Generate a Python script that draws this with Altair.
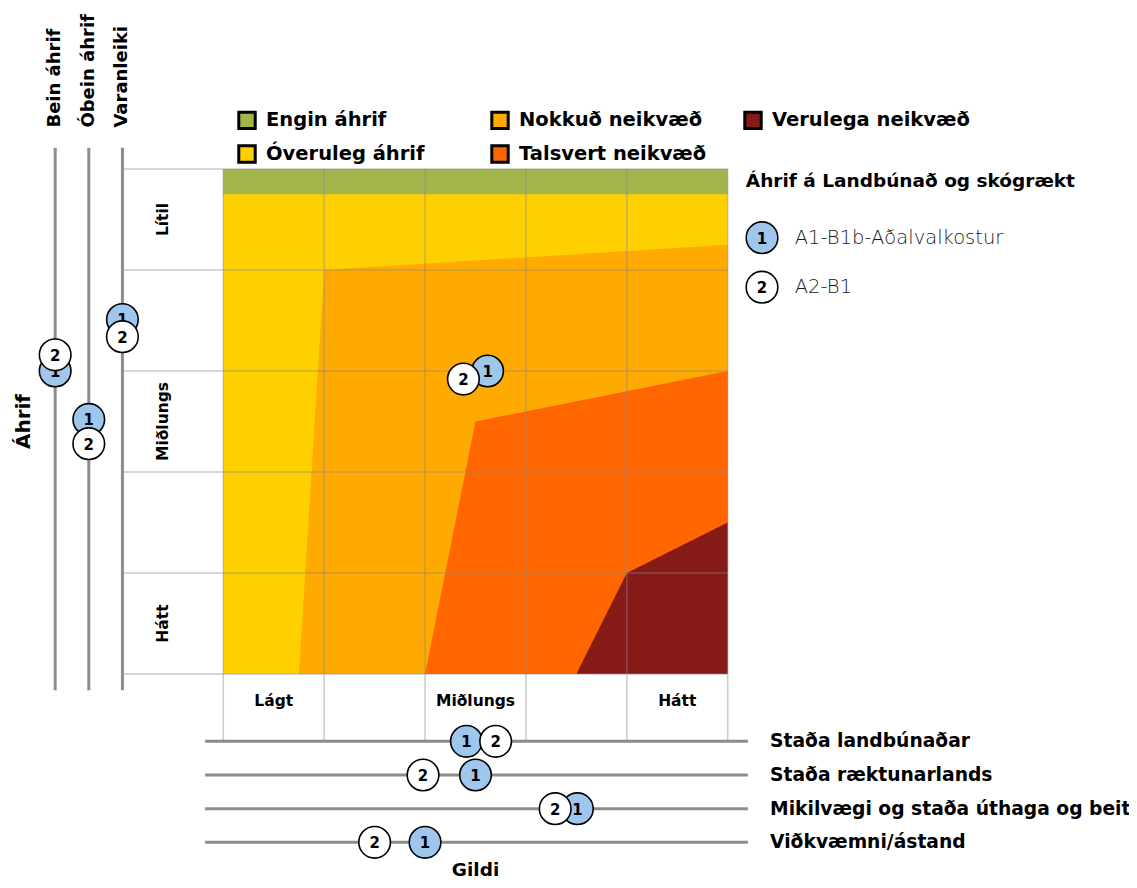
import altair as alt
import pandas as pd

# ---------------- data ----------------
region_names = ["Engin áhrif", "Óveruleg áhrif", "Nokkuð neikvæð", "Talsvert neikvæð", "Verulega neikvæð"]
region_colors = ["#A2B54B", "#FFD000", "#FFAA00", "#FF6600", "#851A17"]

# region boundaries (x = Gildi 0..5, y = Áhrif 0 (top, lítil) .. 5 (bottom, hátt))
yellow_x, yellow_top, yellow_bot = [0, 5], [0, 0], [5, 5]
nokkud_x, nokkud_top, nokkud_bot = [0.75, 1, 5], [5, 1, 0.75], [5, 5, 5]
talsvert_x, talsvert_top, talsvert_bot = [2, 2.5, 5], [5, 2.5, 2], [5, 5, 5]
verulega_x, verulega_top, verulega_bot = [3.5, 4, 5], [5, 4, 3.5], [5, 5, 5]
green_x, green_top, green_bot = [0, 5], [0, 0], [0.25, 0.25]

x_tick_labels = ["Lágt", "Miðlungs", "Hátt"]
x_tick_pos = [0.5, 2.5, 4.5]
y_tick_labels = ["Lítil", "Miðlungs", "Hátt"]
y_tick_pos = [0.5, 2.5, 4.5]

left_strips = ["Bein áhrif", "Óbein áhrif", "Varanleiki"]
bottom_strips = ["Staða landbúnaðar", "Staða ræktunarlands",
                 "Mikilvægi og staða úthaga og beit", "Viðkvæmni/ástand"]

scenarios = ["A1-B1b-Aðalvalkostur", "A2-B1"]
scenario_nums = ["1", "2"]
scenario_fill = ["#9FC7EE", "#FFFFFF"]

main_x = [2.62, 2.38]
main_y = [2.00, 2.08]
left_vals = [[2.00, 2.48, 1.49], [1.84, 2.72, 1.66]]
bottom_vals = [[2.41, 2.50, 3.51, 2.00], [2.70, 1.98, 3.29, 1.50]]

# ---------------- layout ----------------
FONT = "DejaVu Sans"
W, H = 1121, 872
PL, PR, PT, PB = 223.3, 727.7, 169.0, 674.0
ux = (PR - PL) / 5
uy = (PB - PT) / 5
XMIN = -(PL - 8) / ux
XMAX = XMIN + W / ux
YMIN = -(PT - 8) / uy
YMAX = YMIN + H / uy

xs = alt.Scale(domain=[XMIN, XMAX], nice=False, zero=False)
ys = alt.Scale(domain=[YMIN, YMAX], nice=False, zero=False, reverse=True)
X = lambda f="x": alt.X(f"{f}:Q", scale=xs, axis=None)
Y = lambda f="y": alt.Y(f"{f}:Q", scale=ys, axis=None, stack=None)

strip_x = [-1 - (len(left_strips) - 1 - i) / 3 for i in range(len(left_strips))]
strip_y = [5 + 2 / 3 + i / 3 for i in range(len(bottom_strips))]

legend_order = ["Engin áhrif", "Nokkuð neikvæð", "Verulega neikvæð", "Óveruleg áhrif", "Talsvert neikvæð"]
color_scale = alt.Scale(domain=legend_order,
                        range=[region_colors[region_names.index(n)] for n in legend_order])
region_legend = alt.Legend(
    orient="none", legendX=229, legendY=102, columns=3, direction="horizontal",
    title=None, symbolType="square", symbolSize=270, symbolStrokeColor="black",
    symbolStrokeWidth=3, symbolOpacity=1, labelFont=FONT, labelFontSize=19.5,
    labelFontWeight="bold", labelColor="black", labelOffset=9, gridAlign="all",
    columnPadding=21, rowPadding=4, padding=0, labelLimit=400)


def region_layer(name, xv, top, bot):
    df = pd.DataFrame({"x": xv, "y": top, "y2": bot, "region": name})
    return alt.Chart(df).mark_area(opacity=1, interpolate="linear", orient="vertical").encode(
        x=X(), y=Y(), y2=alt.Y2("y2"),
        color=alt.Color("region:N", scale=color_scale, legend=region_legend))


regions = [
    region_layer("Óveruleg áhrif", yellow_x, yellow_top, yellow_bot),
    region_layer("Nokkuð neikvæð", nokkud_x, nokkud_top, nokkud_bot),
    region_layer("Talsvert neikvæð", talsvert_x, talsvert_top, talsvert_bot),
    region_layer("Verulega neikvæð", verulega_x, verulega_top, verulega_bot),
    region_layer("Engin áhrif", green_x, green_top, green_bot),
]

# grid lines (inside plot and extended into axis label bands)
grid_rows = []
for k in range(6):
    grid_rows.append({"x": k, "x2": k, "y": 0, "y2": strip_y[0]})
    grid_rows.append({"x": strip_x[-1], "x2": 5, "y": k, "y2": k})
grid = alt.Chart(pd.DataFrame(grid_rows)).mark_rule(
    color="#8a8a8a", opacity=0.45, strokeWidth=1.5).encode(
    x=X(), x2="x2:Q", y=Y(), y2="y2:Q")

# strip lines
strip_rows = [{"x": sx, "x2": sx, "y": -0.21, "y2": 5.16} for sx in strip_x]
strip_rows += [{"x": -0.18, "x2": 5.2, "y": sy, "y2": sy} for sy in strip_y]
strips = alt.Chart(pd.DataFrame(strip_rows)).mark_rule(
    color="#8c8c8c", strokeWidth=3).encode(x=X(), x2="x2:Q", y=Y(), y2="y2:Q")


def text_layer(xv, yv, tv, size, weight="bold", angle=None, align="center", color="black"):
    kw = dict(align=align, baseline="middle", font=FONT, fontSize=size,
              fontWeight=weight, color=color)
    if angle is not None:
        kw["angle"] = angle
    return alt.Chart(pd.DataFrame({"x": xv, "y": yv, "t": tv})).mark_text(**kw).encode(
        x=X(), y=Y(), text="t:N")


left_titles = text_layer(strip_x, [-0.41] * 3, left_strips, 18, angle=270, align="left")
ytick = text_layer([-0.6] * 3, y_tick_pos, y_tick_labels, 15.5, angle=270)
xtick = text_layer(x_tick_pos, [5.27] * 3, x_tick_labels, 15.5)
ahrif = text_layer([-1.98], [2.5], ["Áhrif"], 20, angle=270)
gildi = text_layer([2.5], [6.94], ["Gildi"], 18.5)
bottom_lbl = text_layer([5.42] * 4, strip_y, bottom_strips, 18.7, align="left")
leg_title = text_layer([5.18], [0.12], ["Áhrif á Landbúnað og skógrækt"], 18.5, align="left")

leg_y = [0.68, 1.17]
leg_lbl = text_layer([5.665] * 2, leg_y, scenarios, 19.5, weight=300, align="left", color="#1a1a1a")

# points per scenario
point_layers = []
for s in range(2):
    xs_, ys_ = [main_x[s]], [main_y[s]]
    for i in range(len(left_strips)):
        xs_.append(strip_x[i]); ys_.append(left_vals[s][i])
    for i in range(len(bottom_strips)):
        xs_.append(bottom_vals[s][i]); ys_.append(strip_y[i])
    xs_.append(5.34); ys_.append(leg_y[s])
    df = pd.DataFrame({"x": xs_, "y": ys_, "n": scenario_nums[s]})
    base = alt.Chart(df).encode(x=X(), y=Y())
    point_layers.append(base.mark_point(shape="circle", filled=True, size=1000,
                                        fill=scenario_fill[s], stroke="black",
                                        strokeWidth=1.6, opacity=1))
    point_layers.append(base.mark_text(font=FONT, fontSize=15, fontWeight="bold",
                                       color="black", baseline="middle", dy=1).encode(text="n:N"))

chart = alt.layer(
    *regions, grid, strips, left_titles, ytick, xtick, ahrif, gildi, bottom_lbl,
    leg_title, leg_lbl, *point_layers
).properties(
    width=W, height=H, padding=0, autosize=alt.AutoSizeParams(type="none"),
    background="white"
).configure_view(stroke=None)

chart.save("out.html", embed_options={"renderer": "svg", "actions": False})
